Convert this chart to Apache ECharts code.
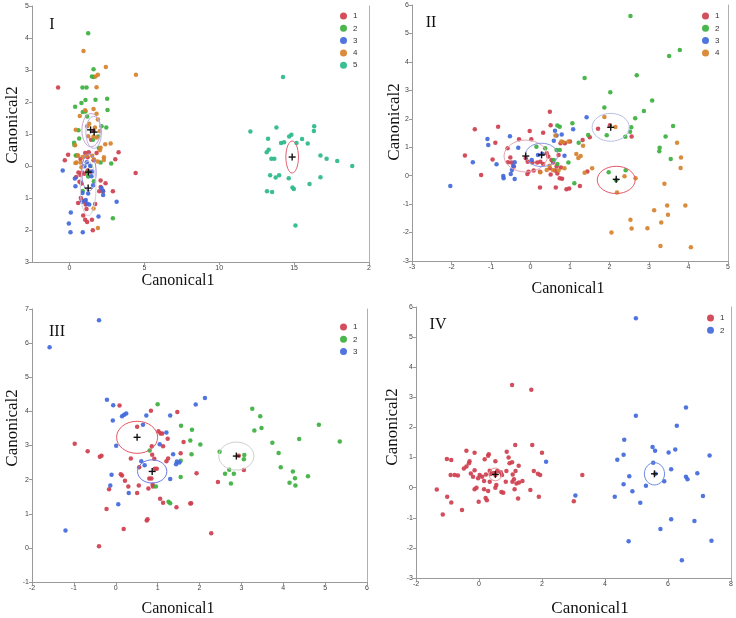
<!DOCTYPE html>
<html><head><meta charset="utf-8">
<script src="https://cdn.jsdelivr.net/npm/echarts@6/dist/echarts.min.js"></script>
<style>html,body{margin:0;padding:0;background:#fff}#c{width:736px;height:618px}</style>
</head><body><div id="c"></div>
<script>
// ---------- Panel I ----------
const p1g1 = [[-0.76,2.45],[1.45,0.82],[1.61,1.10],[-0.09,0.35],[0.51,0.33],[0.74,0.22],[1.05,0.41],[1.29,0.43],[1.81,0.41],[-0.31,0.18],[1.21,0.27],[1.61,0.18],[3.06,0.21],[3.28,0.43],[4.42,-0.22],[0.60,-0.20],[0.74,-0.28],[0.85,-0.20],[1.00,-0.24],[1.21,-0.14],[1.38,-0.18],[0.67,-0.49],[0.80,-0.55],[0.45,-0.34],[2.08,-0.45],[2.41,-0.54],[2.08,-0.66],[2.25,-0.79],[1.99,-0.79],[2.90,-0.79],[0.58,-1.16],[0.76,-1.00],[0.83,-1.07],[1.03,-1.10],[1.72,-1.19],[1.14,-1.34],[0.92,-1.55],[1.05,-1.68],[1.18,-1.75],[1.50,-1.68],[1.56,-2.01],[1.09,-1.20]];
const p1g2 = [[1.25,4.15],[1.61,3.02],[1.50,2.80],[1.61,2.78],[0.87,2.45],[1.14,2.45],[2.52,2.10],[1.07,2.06],[0.80,1.97],[0.38,1.85],[2.54,1.75],[1.07,1.70],[0.89,1.69],[1.18,1.55],[2.14,1.24],[2.46,1.20],[0.60,1.12],[0.31,0.73],[0.33,0.66],[0.65,0.86],[1.92,0.92],[1.96,0.56],[0.42,0.33],[2.08,0.11],[2.79,0.08],[1.43,0.00],[1.18,-0.21],[1.25,-0.33],[1.63,-0.48],[0.89,-0.78],[2.90,-1.63],[1.74,2.07],[1.58,0.82]];
const p1g3 = [[-0.45,-0.14],[0.36,-0.39],[0.40,-0.63],[1.00,-0.01],[1.16,0.12],[1.38,0.01],[1.52,-0.17],[1.47,-0.32],[1.58,-0.60],[1.25,-0.86],[0.87,-0.84],[0.87,-1.12],[1.09,-1.06],[1.18,-1.18],[1.32,-1.20],[2.25,-0.91],[2.14,-0.69],[2.23,-0.77],[3.15,-1.12],[0.09,-1.45],[-0.04,-1.80],[0.07,-2.07],[0.89,-2.07],[1.94,-1.58]];
const p1g4 = [[0.94,3.59],[2.43,3.09],[4.44,2.85],[1.90,2.85],[1.74,2.80],[1.81,2.46],[1.05,1.74],[1.61,1.78],[1.81,1.63],[0.69,1.56],[1.90,1.45],[0.42,1.13],[1.32,1.32],[1.18,1.24],[1.70,1.20],[2.03,1.09],[1.25,0.93],[1.61,0.92],[1.83,0.89],[0.38,0.65],[2.39,0.68],[2.75,0.70],[2.08,0.57],[2.03,0.49],[0.58,0.33],[0.89,0.28],[1.14,0.32],[1.52,0.32],[1.65,0.20],[2.30,0.27],[2.30,0.19],[0.47,0.11],[0.74,0.11],[0.40,0.09],[0.80,-0.04],[1.90,0.14],[1.61,-1.33],[1.90,-1.94]];
const p1g5 = [[12.08,1.08],[14.26,2.78],[13.82,1.20],[13.26,0.85],[14.13,0.72],[14.33,0.74],[14.67,0.92],[14.82,0.98],[15.53,0.84],[15.91,0.70],[16.34,1.24],[16.32,1.09],[15.16,0.72],[13.17,0.43],[13.30,0.51],[13.48,0.23],[13.68,0.23],[16.76,0.33],[17.17,0.23],[17.88,0.16],[18.88,0.0],[13.40,-0.29],[14.00,-0.29],[13.77,-0.36],[14.64,-0.38],[16.76,-0.35],[16.03,-0.56],[14.89,-0.67],[14.98,-0.72],[13.19,-0.79],[13.53,-0.81],[15.09,-1.86]];
const p1Ellipses = [[1.45,1.12,0.62,0.52],[1.62,1.05,0.52,0.5],[1.30,-0.20,0.48,0.58],[1.25,-0.70,0.52,0.85],[14.87,0.28,0.42,0.5]];
const p1EllColors = ['#c9a3cf','#b4b4e6','#8c86e0','#cfcfdc','#e06070'];
const p1Means = [[1.41,1.13],[1.65,1.06],[1.27,-0.19],[1.25,-0.69],[14.87,0.28]];

// ---------- Panel II ----------
const p2g1 = [[0.49,2.25],[-1.41,1.63],[-0.82,1.72],[-0.02,1.57],[-0.29,1.28],[0.02,1.28],[0.32,1.51],[0.51,1.77],[-0.89,1.16],[-0.58,0.96],[-1.66,0.71],[-0.96,0.57],[-1.25,0.02],[-0.51,0.64],[-0.57,0.47],[-0.48,0.46],[-0.42,0.32],[-0.12,0.61],[-0.07,0.49],[0.05,0.46],[-0.05,0.14],[0.08,0.18],[-0.08,0.06],[0.17,0.46],[0.25,0.49],[0.32,0.41],[0.41,0.79],[0.45,0.67],[0.53,0.55],[0.57,0.46],[0.66,0.32],[0.62,0.18],[0.68,0.08],[0.77,0.29],[0.51,0.04],[0.24,0.14],[0.49,0.26],[0.71,0.73],[0.76,1.14],[0.87,1.14],[1.00,1.20],[0.74,-0.09],[0.80,-0.11],[0.24,-0.42],[0.64,-0.42],[0.91,-0.48],[0.98,-0.45],[1.25,-0.36],[1.32,1.25],[1.50,1.35],[1.44,0.15],[1.71,1.65],[2.01,1.77],[2.56,1.38]];
const p2g2 = [[2.53,5.61],[3.51,4.21],[3.78,4.42],[2.69,3.53],[1.37,3.43],[2.02,2.93],[3.08,2.64],[2.87,2.27],[2.65,2.02],[1.87,2.40],[3.61,1.75],[3.42,1.38],[3.27,0.98],[3.26,0.86],[3.55,0.59],[2.55,1.70],[2.52,1.54],[2.40,1.37],[1.93,1.42],[1.98,0.12],[2.17,-0.16],[2.41,0.19],[1.11,-0.27],[0.15,1.02],[0.37,0.96],[0.68,1.76],[0.74,1.72],[1.06,1.84],[0.66,0.90],[0.74,0.90],[0.59,0.55],[0.68,0.41],[0.96,0.46],[1.22,1.16],[1.46,1.43]];
const p2g3 = [[-1.09,1.29],[-1.07,1.08],[-0.52,1.39],[-1.46,0.47],[-0.86,0.40],[-0.31,0.98],[-0.40,0.47],[-0.44,0.34],[-0.47,0.20],[-0.50,0.06],[-0.69,-0.01],[-0.68,-0.09],[-0.40,-0.12],[0.03,0.55],[0.19,0.73],[0.30,0.76],[0.66,1.41],[0.79,1.45],[0.62,1.58],[0.59,1.23],[0.86,0.70],[1.08,1.63],[1.42,2.05],[-2.03,-0.36]];
const p2g4 = [[0.63,1.41],[0.78,1.20],[0.82,1.18],[0.96,1.20],[1.16,0.76],[1.27,0.69],[1.21,0.62],[0.86,0.26],[0.71,0.18],[0.57,0.20],[0.25,0.12],[0.48,0.35],[0.41,0.20],[1.33,1.05],[1.56,0.26],[1.37,0.10],[1.87,2.06],[2.15,1.71],[3.71,1.16],[3.81,0.64],[3.80,0.27],[2.66,-0.09],[2.38,-0.02],[2.19,-0.59],[3.39,-0.28],[3.92,-1.05],[3.46,-1.05],[3.13,-1.22],[3.48,-1.37],[2.53,-1.55],[3.31,-1.65],[2.56,-1.86],[2.96,-1.85],[2.05,-2.00],[3.29,-2.47],[4.06,-2.52]];
const p2Ellipses = [[-0.12,0.69,0.55,0.56],[0.28,0.73,0.41,0.41],[2.03,1.70,0.47,0.49],[2.17,-0.15,0.48,0.48]];
const p2EllColors = ['#e2a8b4','#8496e2','#b8c0e4','#e45866'];
const p2Means = [[-0.12,0.69],[0.28,0.73],[2.03,1.70],[2.17,-0.13]];

// ---------- Panel III ----------
const p3g1 = [[0.09,4.17],[0.84,4.02],[1.47,3.98],[0.51,3.55],[1.02,3.42],[1.07,3.35],[1.11,3.35],[-0.98,3.05],[-0.67,2.83],[-0.38,2.67],[-0.34,2.70],[0.36,2.62],[0.86,2.98],[1.13,2.98],[1.24,3.20],[1.62,3.10],[1.55,2.77],[1.21,2.54],[1.25,2.62],[0.92,2.61],[0.87,2.73],[0.56,2.36],[0.93,2.32],[0.12,2.16],[0.15,2.12],[0.22,1.97],[0.30,1.80],[0.55,1.83],[0.51,1.61],[0.80,2.03],[0.85,2.03],[0.78,1.74],[0.88,1.85],[0.89,1.80],[-0.16,1.72],[-0.22,1.14],[1.06,1.44],[1.13,1.32],[1.45,1.19],[1.78,1.30],[1.80,1.31],[0.74,0.80],[0.76,0.84],[0.19,0.55],[-0.40,0.05],[2.28,0.43],[1.93,2.19],[2.44,1.93],[2.94,2.70],[3.06,2.28],[0.98,2.32]];
const p3g2 = [[1.00,4.21],[1.56,3.58],[1.82,3.46],[2.02,3.03],[1.78,3.15],[1.81,2.74],[1.55,2.55],[1.55,2.08],[0.81,2.85],[0.96,1.80],[1.26,1.35],[1.30,1.31],[2.48,2.82],[2.71,2.29],[2.61,2.17],[2.82,2.17],[2.75,1.89],[3.07,2.72],[3.06,2.60],[3.26,4.08],[3.45,3.86],[3.31,3.44],[3.48,3.51],[3.74,3.08],[3.89,2.78],[3.94,2.36],[4.38,3.19],[4.85,3.61],[5.35,3.12],[4.23,2.24],[4.28,2.04],[4.15,1.91],[4.29,1.83],[4.59,2.10]];
const p3g3 = [[-0.40,6.67],[-1.58,5.88],[-0.21,4.34],[-0.06,4.18],[0.20,3.90],[0.25,3.94],[0.15,3.86],[-0.07,3.73],[0.73,3.88],[0.65,3.61],[1.30,3.88],[1.91,4.20],[2.13,4.39],[1.21,3.38],[1.05,3.04],[0.01,2.99],[0.61,2.54],[0.69,2.42],[1.37,2.74],[1.44,2.45],[1.52,2.50],[1.46,2.53],[-0.10,2.14],[-0.13,1.83],[0.31,1.61],[0.06,1.28],[1.30,2.02],[-1.20,0.51]];
const p3Ellipses = [[0.51,3.24,0.49,0.47],[0.87,2.24,0.35,0.34],[2.88,2.69,0.42,0.41]];
const p3EllColors = ['#e45866','#6a78e4','#cfcfcf'];
const p3Means = [[0.51,3.24],[0.87,2.24],[2.88,2.69]];

// ---------- Panel IV ----------
const p4g1 = [[1.05,3.41],[1.66,3.25],[1.15,1.42],[1.69,1.42],[2.00,1.16],[-0.40,1.23],[-0.14,1.16],[0.31,1.11],[0.29,1.06],[0.88,1.19],[-1.02,0.95],[-0.88,0.92],[0.18,0.94],[0.52,0.88],[0.94,1.00],[0.97,0.81],[1.05,0.84],[-0.30,0.88],[-0.32,0.81],[-0.40,0.70],[-0.48,0.64],[-0.14,0.58],[-0.90,0.42],[-0.77,0.42],[-0.67,0.40],[-0.26,0.47],[-0.19,0.36],[0.02,0.42],[0.10,0.36],[0.22,0.44],[0.34,0.56],[0.37,0.45],[0.47,0.49],[0.52,0.42],[0.58,0.55],[0.69,0.51],[0.73,0.42],[0.87,0.55],[1.07,0.44],[1.16,0.55],[1.26,0.73],[1.11,0.28],[1.06,0.20],[1.19,0.14],[1.27,0.17],[1.38,0.22],[1.74,0.55],[1.87,0.46],[1.94,0.42],[-0.03,0.31],[0.16,0.22],[0.34,0.20],[0.55,0.09],[0.52,0.00],[0.85,0.20],[-1.34,-0.06],[-0.14,-0.05],[-0.08,0.00],[0.16,-0.05],[0.29,-0.11],[0.71,-0.14],[0.77,-0.17],[1.13,-0.05],[1.63,-0.08],[-1.01,-0.30],[-0.88,-0.49],[-0.01,-0.47],[0.21,-0.34],[0.25,-0.42],[1.24,-0.36],[1.90,-0.30],[-1.15,-0.89],[-0.54,-0.74],[3.28,0.42],[3.01,-0.45]];
const p4g2 = [[4.98,5.63],[4.98,2.39],[6.57,2.66],[6.28,2.06],[4.61,1.59],[5.51,1.35],[5.59,1.23],[6.02,1.17],[6.23,1.27],[7.32,1.07],[4.59,1.09],[4.39,0.93],[5.53,0.83],[6.10,0.61],[6.93,0.48],[5.60,0.46],[4.77,0.38],[6.57,0.36],[6.62,0.28],[5.88,0.21],[4.59,0.11],[5.30,0.06],[2.13,0.86],[4.87,-0.12],[4.31,-0.30],[5.12,-0.50],[7.11,-0.28],[3.06,-0.26],[6.10,-1.05],[6.84,-1.11],[5.76,-1.37],[4.75,-1.78],[7.38,-1.76],[6.44,-2.41]];
const p4Ellipses = [[0.52,0.44,0.2,0.21],[5.57,0.46,0.32,0.37]];
const p4EllColors = ['#e69090','#6a88e4'];
const p4Means = [[0.52,0.44],[5.57,0.46]];

const COL = {r:'#cf3f4e', g:'#3bb03e', b:'#4169dc', o:'#d7822c', t:'#2bb98a'};

const grids = [
  {left:32, top:6, width:337, height:256},
  {left:412, top:5, width:316, height:256},
  {left:32, top:309, width:335, height:273},
  {left:416, top:307, width:315, height:271}
];
const axisCol = '#9a9a9a';
const lbl = {fontSize:7, color:'#444', margin:3, fontFamily:'Liberation Sans'};
function xA(gi, min, max, interval, extra){
  return Object.assign({type:'value', gridIndex:gi, min, max, interval, splitLine:{show:false},
    axisLine:{show:true, onZero:false, lineStyle:{color:axisCol}},
    axisTick:{show:true, length:3, lineStyle:{color:axisCol}},
    axisLabel:Object.assign({}, lbl)}, extra||{});
}
function yA(gi, min, max, interval, extra){
  return Object.assign({type:'value', gridIndex:gi, min, max, interval, splitLine:{show:false},
    axisLine:{show:true, onZero:false, lineStyle:{color:axisCol}},
    axisTick:{show:true, length:3, lineStyle:{color:axisCol}},
    axisLabel:Object.assign({}, lbl)}, extra||{});
}
function yR(gi, min, max){
  return {type:'value', gridIndex:gi, min, max, position:'right', splitLine:{show:false},
    axisLine:{show:true, onZero:false, lineStyle:{color:'#b0b0b0'}}, axisTick:{show:false}, axisLabel:{show:false}};
}
const xAxes = [
  {type:'value', gridIndex:0, min:-2.5, max:20, splitLine:{show:false},
   axisLine:{show:true, onZero:false, lineStyle:{color:axisCol}},
   axisTick:{show:true, length:3, lineStyle:{color:axisCol}, customValues:[0,5,10,15,20]},
   axisLabel:Object.assign({}, lbl, {customValues:[0,5,10,15,20], formatter:v=> v===20?'2':String(v)})},
  xA(1,-3,5,1), xA(2,-2,6,1), xA(3,-2,8,2)
];
const yAxes = [
  yA(0,-3,5,1,{axisLabel:Object.assign({}, lbl, {formatter:v=>String(Math.abs(v))})}), yR(0,-3,5),
  yA(1,-3,6,1), yR(1,-3,6),
  yA(2,-1,7,1), yR(2,-1,7),
  yA(3,-3,6,1), yR(3,-3,6)
];

const series = [];
function sc(name, data, color, gi){
  series.push({type:'scatter', name, data, xAxisIndex:gi, yAxisIndex:2*gi, symbolSize:4.5,
    itemStyle:{color, opacity:0.92}, emphasis:{disabled:true}, z:2});
}
function ell(data, colors, gi){
  series.push({type:'custom', xAxisIndex:gi, yAxisIndex:2*gi, data, z:3, silent:true,
    renderItem:(params, api)=>{
      const c = api.coord([api.value(0), api.value(1)]);
      const s = api.size([api.value(2), api.value(3)]);
      return {type:'ellipse', shape:{cx:c[0], cy:c[1], rx:s[0], ry:s[1]},
        style:{fill:'none', stroke:colors[params.dataIndex], lineWidth:1}};
    }});
}
function means(data, gi){
  series.push({type:'custom', xAxisIndex:gi, yAxisIndex:2*gi, data, z:4, silent:true,
    renderItem:(params, api)=>{
      const c = api.coord([api.value(0), api.value(1)]);
      const st = {stroke:'#111', lineWidth:1.4};
      return {type:'group', children:[
        {type:'line', shape:{x1:c[0]-3.5, y1:c[1], x2:c[0]+3.5, y2:c[1]}, style:st},
        {type:'line', shape:{x1:c[0], y1:c[1]-3.5, x2:c[0], y2:c[1]+3.5}, style:st}
      ]};
    }});
}
sc('I-1', p1g1, COL.r, 0); sc('I-2', p1g2, COL.g, 0); sc('I-3', p1g3, COL.b, 0); sc('I-4', p1g4, COL.o, 0); sc('I-5', p1g5, COL.t, 0);
sc('II-1', p2g1, COL.r, 1); sc('II-2', p2g2, COL.g, 1); sc('II-3', p2g3, COL.b, 1); sc('II-4', p2g4, COL.o, 1);
sc('III-1', p3g1, COL.r, 2); sc('III-2', p3g2, COL.g, 2); sc('III-3', p3g3, COL.b, 2);
sc('IV-1', p4g1, COL.r, 3); sc('IV-2', p4g2, COL.b, 3);
ell(p1Ellipses, p1EllColors, 0); ell(p2Ellipses, p2EllColors, 1); ell(p3Ellipses, p3EllColors, 2); ell(p4Ellipses, p4EllColors, 3);
means(p1Means, 0); means(p2Means, 1); means(p3Means, 2); means(p4Means, 3);

function lg(names, left, top){
  return {data:names, orient:'vertical', left, top, icon:'circle', itemWidth:7, itemHeight:7, itemGap:4.3,
    padding:0, textStyle:{fontSize:8, color:'#333', fontFamily:'Liberation Sans', padding:[0,0,0,1]},
    formatter:n=>n.split('-')[1], selectedMode:false};
}
const legends = [
  lg(['I-1','I-2','I-3','I-4','I-5'], 340, 12),
  lg(['II-1','II-2','II-3','II-4'], 702, 12),
  lg(['III-1','III-2','III-3'], 340, 323),
  lg(['IV-1','IV-2'], 707, 314)
];

const serif = 'Liberation Serif, Times New Roman, serif';
function txt(text, x, y, size, rot){
  return {type:'text', x, y, rotation:rot||0, silent:true,
    style:{text, x:0, y:0, font:size+'px '+serif, fill:'#111', textAlign:'center', textVerticalAlign:'middle', align:'center', verticalAlign:'middle'}};
}
const graphics = [
  txt('I', 52, 25, 16), txt('II', 431, 23, 16), txt('III', 57, 332, 16), txt('IV', 438, 325, 16),
  txt('Canonical1', 178, 281, 16), txt('Canonical1', 568, 289, 16), txt('Canonical1', 178, 609, 16), txt('Canonical1', 590, 609, 17),
  txt('Canonical2', 13, 125, 17, Math.PI/2), txt('Canonical2', 395, 122, 17, Math.PI/2),
  txt('Canonical2', 13, 428, 17, Math.PI/2), txt('Canonical2', 393, 427, 17, Math.PI/2)
];

const chart = echarts.init(document.getElementById('c'), null, {renderer:'canvas'});
chart.setOption({
  animation:false, backgroundColor:'#fff',
  grid:grids, xAxis:xAxes, yAxis:yAxes, series, legend:legends, graphic:graphics
});
</script></body></html>
